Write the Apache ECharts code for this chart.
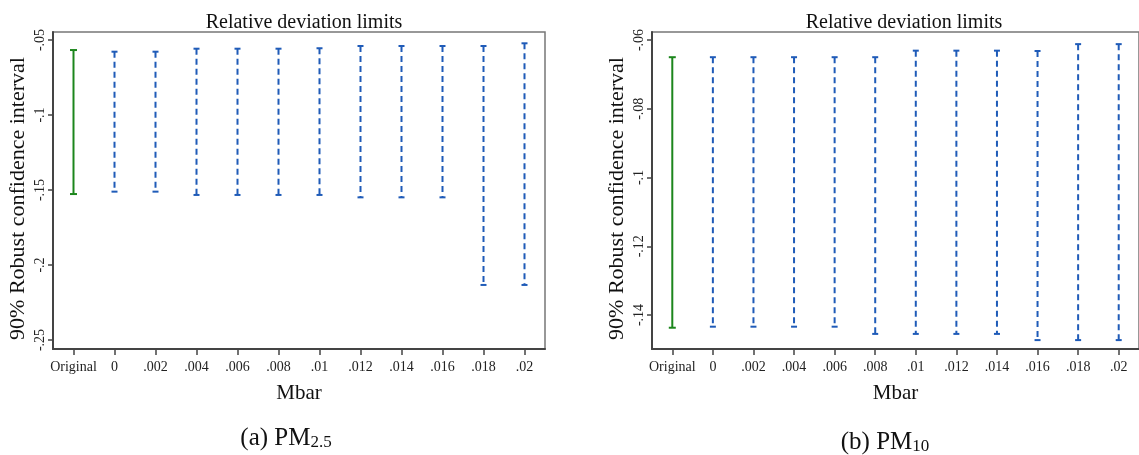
<!DOCTYPE html>
<html>
<head>
<meta charset="utf-8">
<script src="https://cdn.jsdelivr.net/npm/echarts@6/dist/echarts.min.js"></script>
<style>
html,body{margin:0;padding:0;background:#fff;}
#c{width:1139px;height:455px;}
</style>
</head>
<body>
<div id="c"></div>
<script>
// ---- data ----
const categories = ['Original','0','.002','.004','.006','.008','.01','.012','.014','.016','.018','.02'];
// (a) PM2.5 : 90% robust confidence interval limits
const pm25Low  = [-0.1527,-0.1511,-0.1511,-0.1533,-0.1533,-0.1533,-0.1533,-0.1549,-0.1549,-0.1549,-0.2133,-0.2133];
const pm25High = [-0.0567,-0.0578,-0.0578,-0.0558,-0.0558,-0.0558,-0.0555,-0.0540,-0.0540,-0.0540,-0.0540,-0.0522];
// (b) PM10
const pm10Low  = [-0.1437,-0.1434,-0.1434,-0.1434,-0.1434,-0.1455,-0.1455,-0.1455,-0.1455,-0.1473,-0.1473,-0.1473];
const pm10High = [-0.0650,-0.0650,-0.0650,-0.0650,-0.0650,-0.0650,-0.0631,-0.0631,-0.0631,-0.0632,-0.0612,-0.0612];
// tick labels
const pm25Ticks = [-0.25,-0.2,-0.15,-0.1,-0.05];
const pm10Ticks = [-0.14,-0.12,-0.1,-0.08,-0.06];

const GREEN = '#1c861c';
const BLUE = '#1f5bb8';
const FONT = '"Liberation Serif","Times New Roman",serif';

function fmt(v){
  let s = (+v.toFixed(4)).toString();
  return s.replace(/^-0\./,'-.').replace(/^0\./,'.');
}

function rows(lo, hi){ return categories.map((c,i)=>[i, lo[i], hi[i]]); }

function renderBar(params, api){
  const i = api.value(0);
  const lo = api.coord([i, api.value(1)]);
  const hi = api.coord([i, api.value(2)]);
  const orig = i === 0;
  const color = orig ? GREEN : BLUE;
  const cap = orig ? 3.5 : 3;
  const st = {stroke: color, lineWidth: 2, fill: null};
  return {type:'group', children:[
    {type:'line', shape:{x1:hi[0],y1:hi[1],x2:lo[0],y2:lo[1]},
      style:Object.assign({}, st, orig ? {} : {lineDash:[6,4]})},
    {type:'line', shape:{x1:hi[0]-cap,y1:hi[1],x2:hi[0]+cap,y2:hi[1]}, style:st},
    {type:'line', shape:{x1:lo[0]-cap,y1:lo[1],x2:lo[0]+cap,y2:lo[1]}, style:st}
  ]};
}

function xAx(gi){
  return {
    type:'category', gridIndex:gi, data:categories, boundaryGap:true,
    name:'Mbar', nameLocation:'middle', nameGap:34,
    nameTextStyle:{fontFamily:FONT, fontSize:21, color:'#111'},
    axisLine:{show:true, lineStyle:{color:'#444', width:2}},
    axisTick:{show:true, alignWithLabel:true, length:6, lineStyle:{color:'#444', width:1.5}},
    axisLabel:{fontFamily:FONT, fontSize:14, color:'#222', margin:11, interval:0},
    splitLine:{show:false}
  };
}
function yAx(gi, min, max, ticks){
  return {
    type:'value', gridIndex:gi, min:min, max:max,
    name:'90% Robust confidence interval', nameLocation:'middle', nameRotate:90, nameGap:24,
    nameTextStyle:{fontFamily:FONT, fontSize:22, color:'#111', padding:[0,0,0,-16]},
    axisLine:{show:true, lineStyle:{color:'#444', width:2}},
    axisTick:{show:true, length:5, customValues:ticks, lineStyle:{color:'#444', width:1.5}},
    axisLabel:{fontFamily:FONT, fontSize:14, color:'#222', rotate:90, margin:6,
      align:'center', verticalAlign:'bottom',
      customValues:ticks, formatter:fmt},
    splitLine:{show:false}
  };
}

const chart = echarts.init(document.getElementById('c'), null, {renderer:'canvas'});
chart.setOption({
  backgroundColor:'#fff',
  animation:false,
  title:[
    {text:'Relative deviation limits', left:299, top:8, textAlign:'center',
      textStyle:{fontFamily:FONT, fontSize:20, fontWeight:'normal', color:'#111'}},
    {text:'Relative deviation limits', left:899, top:8, textAlign:'center',
      textStyle:{fontFamily:FONT, fontSize:20, fontWeight:'normal', color:'#111'}},
    {text:'(a) PM{s|2.5}', left:281, top:420, textAlign:'center',
      textStyle:{fontFamily:FONT, fontSize:25, fontWeight:'normal', color:'#111',
        rich:{s:{fontFamily:FONT, fontSize:17, color:'#111', verticalAlign:'bottom', lineHeight:26}}}},
    {text:'(b) PM{s|10}', left:880, top:424, textAlign:'center',
      textStyle:{fontFamily:FONT, fontSize:25, fontWeight:'normal', color:'#111',
        rich:{s:{fontFamily:FONT, fontSize:17, color:'#111', verticalAlign:'bottom', lineHeight:26}}}}
  ],
  grid:[
    {left:53, top:32, width:492, height:317, show:true, borderColor:'#777', borderWidth:1.5, backgroundColor:'#fff'},
    {left:652, top:32, width:493, height:317, show:true, borderColor:'#777', borderWidth:1.5, backgroundColor:'#fff'}
  ],
  xAxis:[xAx(0), xAx(1)],
  yAxis:[yAx(0, -0.256, -0.04467, pm25Ticks), yAx(1, -0.14989, -0.05767, pm10Ticks)],
  series:[
    {type:'custom', xAxisIndex:0, yAxisIndex:0, data:rows(pm25Low, pm25High), renderItem:renderBar,
      encode:{x:0, y:[1,2]}, clip:false},
    {type:'custom', xAxisIndex:1, yAxisIndex:1, data:rows(pm10Low, pm10High), renderItem:renderBar,
      encode:{x:0, y:[1,2]}, clip:false}
  ]
});
</script>
</body>
</html>
